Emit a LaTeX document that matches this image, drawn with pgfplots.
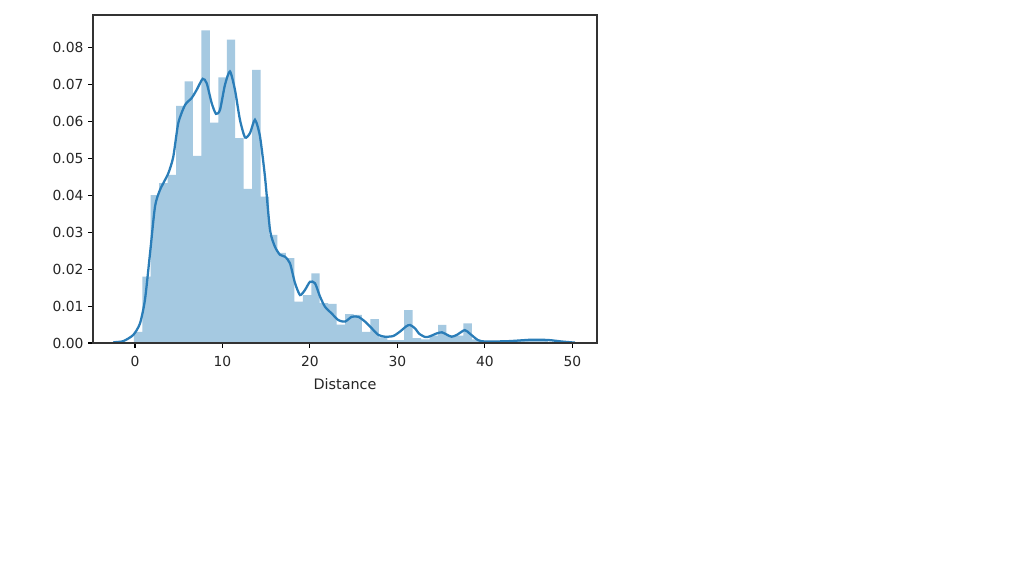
\documentclass[border=0pt]{standalone}
\usepackage{fontspec}
\setmainfont{DejaVu Sans}
\usepackage{pgfplots}
\pgfplotsset{compat=1.18}
\definecolor{sbblue}{HTML}{2A7DB8}
\definecolor{sbbar}{HTML}{A5C9E1}
\begin{document}
\begin{tikzpicture}
\fill[white] (0,0) rectangle (768pt,432pt);
\path[use as bounding box] (0,0) rectangle (768pt,432pt);
\begin{axis}[
    at={(69.75pt,174.75pt)}, anchor=south west,
    scale only axis, width=378pt, height=246pt,
    xmin=-4.8, xmax=52.82, ymin=0, ymax=0.0889,
    xtick={0,10,20,30,40,50},
    ytick={0,0.01,...,0.081},
    yticklabel style={/pgf/number format/.cd, fixed, fixed zerofill, precision=2},
    xticklabel style={yshift=-3pt},
    /pgf/number format/assume math mode=true,
    scaled y ticks=false,
    tick pos=left, tick align=outside,
    major tick length=3.6pt,
    every tick/.style={black, line width=0.8pt},
    axis line style={black!80, line width=0.8pt},
    tick label style={font=\fontsize{10.4}{12}\selectfont, text=black!85},
    label style={font=\fontsize{10.8}{13}\selectfont, text=black!85},
    xlabel={Distance},
    xlabel style={yshift=-1.5pt},
    axis on top,
]
\addplot[ybar interval, fill=sbbar, draw=none] table {
x y
-0.13 0.0030
0.836 0.0180
1.802 0.0401
2.768 0.0433
3.734 0.0456
4.700 0.0643
5.666 0.0709
6.632 0.0507
7.598 0.0847
8.564 0.0597
9.530 0.0720
10.496 0.0822
11.462 0.0555
12.428 0.0418
13.394 0.0740
14.360 0.0397
15.326 0.0293
16.292 0.0244
17.258 0.0230
18.224 0.0112
19.190 0.0130
20.156 0.0189
21.122 0.0108
22.088 0.0106
23.054 0.0050
24.020 0.0078
24.986 0.0076
25.952 0.0030
26.918 0.0065
27.884 0.0015
28.850 0.0008
29.816 0.0008
30.782 0.0089
31.748 0.0013
32.714 0.0010
33.680 0.0020
34.646 0.0049
35.612 0.0020
36.578 0.0020
37.544 0.0053
38.510 0.0010
39.476 0.0003
40.442 0.0003
41.408 0.0003
42.374 0.0005
43.340 0.0006
44.306 0.0009
45.272 0.0009
46.238 0.0009
47.204 0.0003
48.170 0.0003
};
\addplot[sbblue, line width=1.7pt, smooth, tension=0.4] table {
x y
-2.48 0.0002
-1.34 0.0005
-0.19 0.0022
0.57 0.0053
1.14 0.0117
1.72 0.0243
2.29 0.0370
2.86 0.0415
3.81 0.0460
4.38 0.0505
4.95 0.0596
5.72 0.0645
6.48 0.0664
7.05 0.0686
7.74 0.0716
8.20 0.0704
8.77 0.0650
9.26 0.0621
9.72 0.0632
10.29 0.0700
10.86 0.0736
11.43 0.0686
12.00 0.0605
12.58 0.0557
13.15 0.0569
13.72 0.0605
14.29 0.0560
14.86 0.0451
15.44 0.0306
16.00 0.0261
16.58 0.0239
17.15 0.0234
17.72 0.0216
18.30 0.0162
18.87 0.0130
19.44 0.0144
20.01 0.0166
20.58 0.0162
21.15 0.0126
21.73 0.0098
22.49 0.0080
23.25 0.0062
24.01 0.0058
24.78 0.0071
25.53 0.0071
26.30 0.0058
27.06 0.0040
27.82 0.0022
28.58 0.0017
29.53 0.0019
30.30 0.0031
31.00 0.0045
31.44 0.0049
32.00 0.0040
32.50 0.0025
33.20 0.0016
33.70 0.0018
34.50 0.0026
35.10 0.0029
35.70 0.0022
36.20 0.0017
36.80 0.0022
37.70 0.0035
38.30 0.0025
39.20 0.0008
40.00 0.0004
42.70 0.0005
45.40 0.0009
47.30 0.0008
48.80 0.0004
50.30 0.0001
};
\end{axis}
\end{tikzpicture}
\end{document}
